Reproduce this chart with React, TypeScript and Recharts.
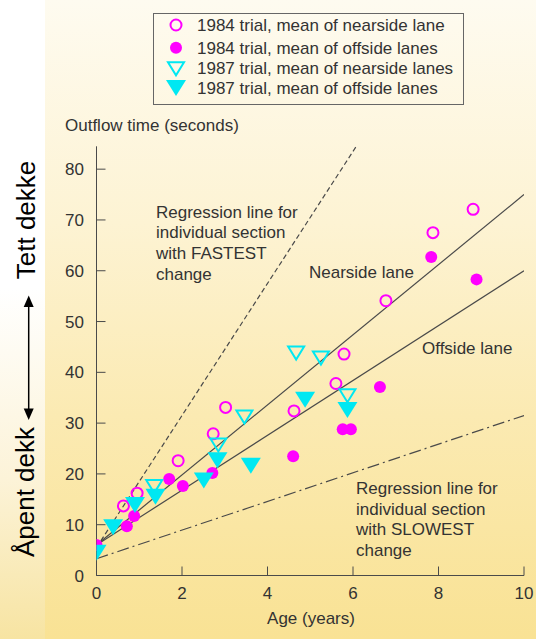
import React from 'react';
import { ScatterChart, Scatter, XAxis, YAxis, ReferenceLine } from 'recharts';

// ---- data ----
const xTicks = [0, 2, 4, 6, 8, 10];
const yTicks = [0, 10, 20, 30, 40, 50, 60, 70, 80];

const nearside1984 = [
  { x: 0.63, y: 13.7 }, { x: 0.95, y: 16.2 }, { x: 1.91, y: 22.6 }, { x: 2.73, y: 27.9 },
  { x: 3.02, y: 33.1 }, { x: 4.62, y: 32.4 }, { x: 5.6, y: 37.8 }, { x: 5.79, y: 43.6 },
  { x: 6.77, y: 54.1 }, { x: 7.87, y: 67.5 }, { x: 8.81, y: 72.1 },
];
const offside1984 = [
  { x: 0.0, y: 6.0 }, { x: 0.71, y: 9.7 }, { x: 0.88, y: 11.7 }, { x: 1.7, y: 19.0 },
  { x: 2.02, y: 17.6 }, { x: 2.71, y: 20.2 }, { x: 4.6, y: 23.5 }, { x: 5.76, y: 28.8 },
  { x: 5.95, y: 28.8 }, { x: 6.63, y: 37.1 }, { x: 7.83, y: 62.7 }, { x: 8.89, y: 58.3 },
];
const nearside1987 = [
  { x: 1.35, y: 17.6 }, { x: 2.85, y: 25.8 }, { x: 3.46, y: 31.3 }, { x: 4.67, y: 43.9 },
  { x: 5.25, y: 42.9 }, { x: 5.87, y: 35.5 },
];
const offside1987 = [
  { x: 0.0, y: 4.5 }, { x: 0.39, y: 9.5 }, { x: 0.9, y: 13.9 }, { x: 1.38, y: 15.5 },
  { x: 2.51, y: 18.7 }, { x: 2.83, y: 22.7 }, { x: 3.61, y: 21.6 }, { x: 4.88, y: 34.6 },
  { x: 5.87, y: 32.6 },
];

const nearsideLine = [{ x: 0, y: 6 }, { x: 10, y: 75 }];
const offsideLine = [{ x: 0, y: 6 }, { x: 10, y: 60 }];
const fastestLine = [{ x: 0, y: 5.5 }, { x: 10, y: 135.5 }];
const slowestLine = [{ x: 0, y: 3.3 }, { x: 10, y: 31.5 }];

const legendLabels = [
  '1984 trial, mean of nearside lane',
  '1984 trial, mean of offside lanes',
  '1987 trial, mean of nearside lanes',
  '1987 trial, mean of offside lanes',
];

// ---- styles ----
const MAGENTA = '#FF00FF';
const CYAN = '#00E8F2';
const FONT = '"Liberation Sans", Arial, Helvetica, sans-serif';
const TEXT = '#333333';
const LINE = '#4a4a4a';

const HollowCircle = (p: any) => (
  <circle cx={p.cx} cy={p.cy} r={5.5} fill="none" stroke={MAGENTA} strokeWidth={2} />
);
const FilledCircle = (p: any) => <circle cx={p.cx} cy={p.cy} r={6} fill={MAGENTA} />;
const HollowTri = (p: any) => (
  <polygon
    points={`${p.cx - 8},${p.cy - 6} ${p.cx + 8},${p.cy - 6} ${p.cx},${p.cy + 7}`}
    fill="none"
    stroke={CYAN}
    strokeWidth={2}
    strokeLinejoin="miter"
  />
);
const FilledTri = (p: any) => (
  <polygon
    points={`${p.cx - 10},${p.cy - 8} ${p.cx + 10},${p.cy - 8} ${p.cx},${p.cy + 8}`}
    fill={CYAN}
  />
);

const legendShapes = [HollowCircle, FilledCircle, HollowTri, FilledTri];

const tickStyle = { fill: TEXT, fontSize: 17, fontFamily: FONT };

export default function App() {
  return (
    <div
      style={{
        position: 'absolute',
        left: 0,
        top: 0,
        width: 536,
        height: 639,
        overflow: 'hidden',
        background: 'linear-gradient(180deg, #FEFBF0 0%, #FDF3D3 35%, #FBEAB2 65%, #F9E294 100%)',
        fontFamily: FONT,
      }}
    >
      <div
        style={{
          position: 'absolute',
          left: 0,
          top: 0,
          width: 45,
          height: 639,
          background: 'linear-gradient(180deg, #FFFFFF 0%, #FFFFFF 45%, #FCF3D8 75%, #F7E4A2 100%)',
        }}
      />
      <div style={{ position: 'absolute', left: 0, top: 0 }}>
        <ScatterChart
          width={536}
          height={639}
          margin={{ top: 146.3, right: 12, bottom: 33.5, left: 56.5 }}
        >
          <XAxis
            xAxisId="b"
            type="number"
            dataKey="x"
            orientation="bottom"
            domain={[0, 10]}
            ticks={xTicks}
            allowDataOverflow
            height={30}
            tickSize={-9}
            tickMargin={20.5}
            tick={tickStyle}
            stroke={LINE}
            axisLine={{ stroke: LINE }}
            tickLine={{ stroke: LINE }}
          />
          <XAxis
            xAxisId="t"
            type="number"
            dataKey="x"
            orientation="top"
            domain={[0, 10]}
            ticks={xTicks}
            allowDataOverflow
            height={0}
            tickSize={-9}
            tickFormatter={() => ''}
            axisLine={{ stroke: LINE }}
            tickLine={{ stroke: LINE }}
          />
          <YAxis
            yAxisId="l"
            type="number"
            dataKey="y"
            orientation="left"
            domain={[0, 84.5]}
            ticks={yTicks}
            allowDataOverflow
            width={40}
            tickSize={-9}
            tickMargin={21.5}
            tick={tickStyle}
            axisLine={{ stroke: LINE }}
            tickLine={{ stroke: LINE }}
          />
          <YAxis
            yAxisId="r"
            type="number"
            dataKey="y"
            orientation="right"
            domain={[0, 84.5]}
            ticks={yTicks}
            allowDataOverflow
            width={0}
            tickSize={-9}
            tickFormatter={() => ''}
            axisLine={{ stroke: LINE }}
            tickLine={{ stroke: LINE }}
          />
          <ReferenceLine
            xAxisId="b"
            yAxisId="l"
            segment={fastestLine}
            ifOverflow="hidden"
            stroke={LINE}
            strokeWidth={1.2}
            strokeDasharray="5 3"
          />
          <ReferenceLine
            xAxisId="b"
            yAxisId="l"
            segment={nearsideLine}
            ifOverflow="hidden"
            stroke={LINE}
            strokeWidth={1.2}
          />
          <ReferenceLine
            xAxisId="b"
            yAxisId="l"
            segment={offsideLine}
            ifOverflow="hidden"
            stroke={LINE}
            strokeWidth={1.2}
          />
          <ReferenceLine
            xAxisId="b"
            yAxisId="l"
            segment={slowestLine}
            ifOverflow="hidden"
            stroke={LINE}
            strokeWidth={1.2}
            strokeDasharray="12 4 2 4"
          />
          <Scatter xAxisId="b" yAxisId="l" data={nearside1984} shape={HollowCircle} isAnimationActive={false} />
          <Scatter xAxisId="b" yAxisId="l" data={offside1984} shape={FilledCircle} isAnimationActive={false} />
          <Scatter xAxisId="b" yAxisId="l" data={nearside1987} shape={HollowTri} isAnimationActive={false} />
          <Scatter xAxisId="b" yAxisId="l" data={offside1987} shape={FilledTri} isAnimationActive={false} />
        </ScatterChart>
      </div>

      {/* legend */}
      <div
        style={{
          position: 'absolute',
          left: 153,
          top: 13,
          width: 311,
          height: 92,
          border: '1px solid #666',
          boxSizing: 'border-box',
        }}
      >
        <svg width={311} height={92} style={{ position: 'absolute', left: -1, top: -1 }}>
          {legendLabels.map((label, i) => {
            const cy = [12, 34.7, 55.3, 75][i];
            const Shape = legendShapes[i];
            return (
              <g key={label}>
                <Shape cx={23} cy={cy} />
                <text x={44} y={cy + 6} fontSize={17} fill={TEXT} fontFamily={FONT}>
                  {label}
                </text>
              </g>
            );
          })}
        </svg>
      </div>

      {/* annotations */}
      <svg
        width={536}
        height={639}
        style={{ position: 'absolute', left: 0, top: 0, pointerEvents: 'none' }}
        fontFamily={FONT}
      >
        <text x={65} y={131} fontSize={17} fill={TEXT}>Outflow time (seconds)</text>
        <text fontSize={17} fill={TEXT}>
          <tspan x={156} y={217.5}>Regression line for</tspan>
          <tspan x={156} y={238.3}>individual section</tspan>
          <tspan x={156} y={259}>with FASTEST</tspan>
          <tspan x={156} y={279.5}>change</tspan>
        </text>
        <text x={309} y={278} fontSize={17} fill={TEXT}>Nearside lane</text>
        <text x={422} y={354} fontSize={17} fill={TEXT}>Offside lane</text>
        <text fontSize={17} fill={TEXT}>
          <tspan x={356} y={494}>Regression line for</tspan>
          <tspan x={356} y={515}>individual section</tspan>
          <tspan x={356} y={535}>with SLOWEST</tspan>
          <tspan x={356} y={555.5}>change</tspan>
        </text>
        <text x={311} y={624} fontSize={17} fill={TEXT} textAnchor="middle">Age (years)</text>

        <text
          x={35}
          y={220}
          fontSize={26}
          fill="#000"
          textAnchor="middle"
          transform="rotate(-90 35 220)"
        >
          Tett dekke
        </text>
        <text
          x={33.5}
          y={492}
          fontSize={26}
          fill="#000"
          textAnchor="middle"
          transform="rotate(-90 33.5 492)"
        >
          Åpent dekk
        </text>
        <line x1={28.7} y1={305} x2={28.7} y2={410} stroke="#000" strokeWidth={1.5} />
        <polygon points="28.7,295.5 23.7,307 33.7,307" fill="#000" />
        <polygon points="28.7,420 23.7,408.5 33.7,408.5" fill="#000" />
      </svg>
    </div>
  );
}
